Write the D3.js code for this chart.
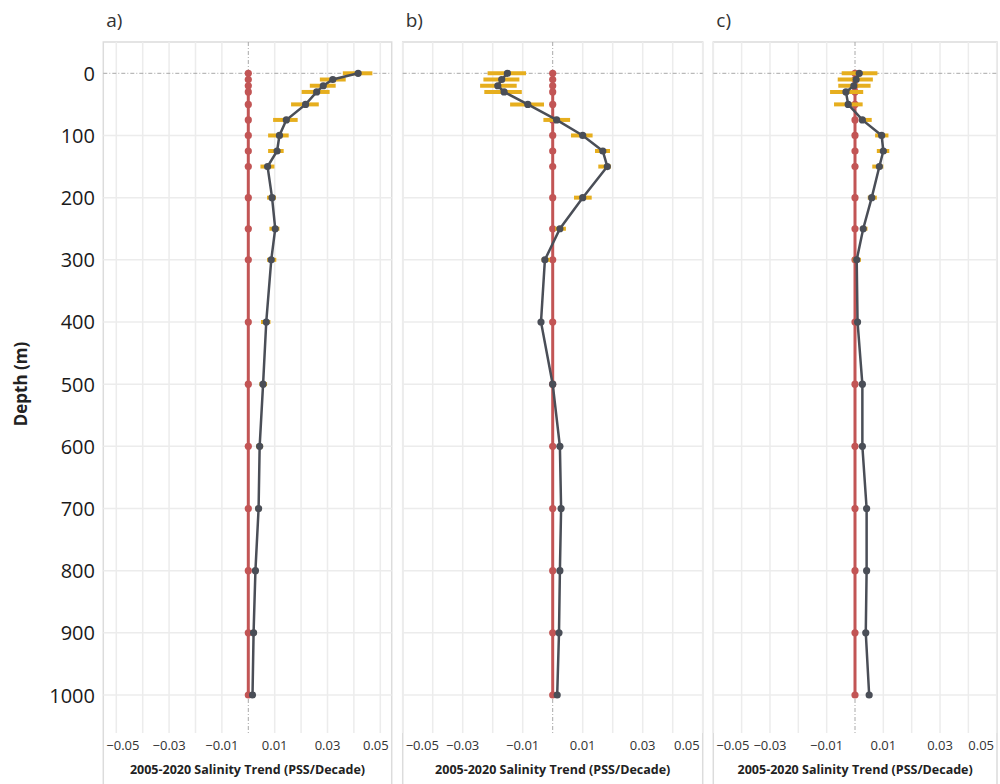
<!DOCTYPE html>
<html lang="en">
	<head>
		<meta charset="utf-8">
		<title>Salinity trend profiles</title>
		<script type="text/javascript" src="https://cdn.jsdelivr.net/npm/d3@7"></script>
		<style type="text/css">
			body { margin: 0; background: #fff; }
			text { font-family: "Open Sans", sans-serif; fill: #222; }
		</style>
	</head>
	<body>
		<script type="text/javascript">

			//Data
			var depths = [0, 10, 20, 30, 50, 75, 100, 125, 150, 200, 250, 300, 400, 500, 600, 700, 800, 900, 1000];

			var trendA = [0.0416, 0.032, 0.0284, 0.0259, 0.0217, 0.0144, 0.0118, 0.0109, 0.0073, 0.009, 0.0102, 0.0087, 0.0068, 0.0056, 0.0043, 0.0039, 0.0027, 0.002, 0.0016];
			var lowA   = [0.0358, 0.0271, 0.0233, 0.0202, 0.0162, 0.0094, 0.0075, 0.0075, 0.0046, 0.0071, 0.008, 0.0071, 0.0048, 0.0042, 0.003, 0.0027, 0.0016, 0.0012, 0.0009];
			var highA  = [0.047, 0.0369, 0.0331, 0.0308, 0.0267, 0.0187, 0.0153, 0.0134, 0.0099, 0.0105, 0.0118, 0.0106, 0.0084, 0.0071, 0.0056, 0.0049, 0.0035, 0.003, 0.0023];

			var trendB = [-0.0151, -0.017, -0.0183, -0.0162, -0.0083, 0.0013, 0.01, 0.0167, 0.0182, 0.01, 0.0024, -0.0026, -0.0039, 0, 0.0024, 0.0028, 0.0024, 0.0021, 0.0015];
			var lowB   = [-0.0217, -0.0231, -0.0242, -0.0228, -0.0142, -0.0031, 0.0061, 0.0141, 0.0152, 0.0071, 0.0008, -0.0037, -0.0047, -0.0007, 0.0017, 0.0021, 0.0018, 0.0015, 0.001];
			var highB  = [-0.0089, -0.0111, -0.012, -0.0103, -0.0029, 0.0058, 0.0133, 0.0191, 0.0194, 0.013, 0.0044, -0.0009, -0.0031, 0.0007, 0.0031, 0.0035, 0.003, 0.0027, 0.002];

			var trendC = [0.0015, 0.0004, -0.0004, -0.0032, -0.0024, 0.0026, 0.0094, 0.01, 0.0086, 0.0059, 0.0029, 0.0006, 0.0009, 0.0026, 0.0026, 0.0041, 0.0041, 0.0038, 0.005];
			var lowC   = [-0.0047, -0.0061, -0.0059, -0.0088, -0.0074, 0.0015, 0.0071, 0.0077, 0.0061, 0.0045, 0.002, -0.0008, 0.0002, 0.0019, 0.002, 0.0035, 0.0035, 0.0032, 0.0044];
			var highC  = [0.0079, 0.0063, 0.0055, 0.0029, 0.0027, 0.0059, 0.0118, 0.0121, 0.01, 0.0077, 0.0044, 0.0021, 0.0016, 0.0033, 0.0032, 0.0047, 0.0047, 0.0044, 0.0056];

			var panelLabels = ["a)", "b)", "c)"];
			var xTickLabels = [-0.05, -0.03, -0.01, 0.01, 0.03, 0.05];
			var yTickValues = [0, 100, 200, 300, 400, 500, 600, 700, 800, 900, 1000];
			var xTitle = "2005-2020 Salinity Trend (PSS/Decade)";
			var yTitle = "Depth (m)";

			//Width and height
			var w = 1000;
			var h = 784;
			var plotTop = 42;
			var plotBottom = 733;

			var red = "#c25555";
			var gold = "#e6ae1e";
			var slate = "#4a4e57";

			//Panel frames: border edges and where -0.05 .. 0.05 falls
			var panels = [
				{ label: panelLabels[0], left: 103.3, right: 391.7, range: [116.3, 380.3], trend: trendA, low: lowA, high: highA },
				{ label: panelLabels[1], left: 402.7, right: 702.7, range: [402.7, 702.7], trend: trendB, low: lowB, high: highB },
				{ label: panelLabels[2], left: 713.3, right: 997,   range: [713.3, 996.7], trend: trendC, low: lowC, high: highC }
			];

			var y = d3.scaleLinear()
						.domain([0, 1000])
						.range([73.3, 695]);

			//Create SVG element
			var svg = d3.select("body")
						.append("svg")
						.attr("width", w)
						.attr("height", h);

			//Y axis labels (shared, left side)
			svg.append("g")
				.attr("transform", "translate(95,0)")
				.call(d3.axisLeft(y).tickValues(yTickValues).tickFormat(d3.format("d")).tickSize(0).tickPadding(0))
				.call(function(g) {
					g.select(".domain").remove();
					g.selectAll("text")
						.style("font-family", "\"Open Sans\", sans-serif")
						.style("font-size", "20px")
						.style("fill", "#1a1a1a")
						.attr("dy", "0.35em");
				});

			svg.append("text")
				.attr("transform", "translate(27,384) rotate(-90)")
				.attr("text-anchor", "middle")
				.style("font-size", "17px")
				.style("font-weight", "bold")
				.text(yTitle);

			panels.forEach(function(p) {

				var x = d3.scaleLinear()
							.domain([-0.05, 0.05])
							.range(p.range);

				var g = svg.append("g");

				//Frame
				g.append("path")
					.attr("d", "M" + p.left + "," + h + "V" + plotTop + "H" + p.right + "V" + h)
					.attr("fill", "none")
					.attr("stroke", "#dcdcdc")
					.attr("stroke-width", 1.5);

				//Vertical grid every 0.01
				g.selectAll(".vgrid")
					.data(d3.range(-5, 6).filter(function(d) { return d !== 0; }).map(function(d) { return d / 100; }))
					.enter()
					.append("line")
					.attr("x1", function(d) { return x(d); })
					.attr("x2", function(d) { return x(d); })
					.attr("y1", plotTop)
					.attr("y2", plotBottom)
					.attr("stroke", "#ececec")
					.attr("stroke-width", 1.5);

				//Horizontal grid every 100 m
				g.selectAll(".hgrid")
					.data(yTickValues.slice(1))
					.enter()
					.append("line")
					.attr("x1", p.left)
					.attr("x2", p.right)
					.attr("y1", function(d) { return y(d); })
					.attr("y2", function(d) { return y(d); })
					.attr("stroke", "#ececec")
					.attr("stroke-width", 1.5);

				//Zero reference lines
				g.append("line")
					.attr("x1", p.left).attr("x2", p.right)
					.attr("y1", y(0)).attr("y2", y(0))
					.attr("stroke", "#a8a8a8")
					.attr("stroke-dasharray", "4,2,1,2");
				g.append("line")
					.attr("x1", x(0)).attr("x2", x(0))
					.attr("y1", plotTop).attr("y2", plotBottom)
					.attr("stroke", "#a8a8a8")
					.attr("stroke-dasharray", "4,2,1,2");

				//Red zero series
				g.append("line")
					.attr("x1", x(0)).attr("x2", x(0))
					.attr("y1", y(depths[0])).attr("y2", y(depths[depths.length - 1]))
					.attr("stroke", red)
					.attr("stroke-width", 3);
				g.selectAll(".zdot")
					.data(depths)
					.enter()
					.append("circle")
					.attr("cx", x(0))
					.attr("cy", function(d) { return y(d); })
					.attr("r", 3.6)
					.attr("fill", red);

				//Error bars
				g.selectAll(".err")
					.data(depths)
					.enter()
					.append("line")
					.attr("x1", function(d, i) { return x(p.low[i]); })
					.attr("x2", function(d, i) { return x(p.high[i]); })
					.attr("y1", function(d) { return y(d); })
					.attr("y2", function(d) { return y(d); })
					.attr("stroke", gold)
					.attr("stroke-width", 4);

				//Trend profile
				var line = d3.line()
							.x(function(d, i) { return x(p.trend[i]); })
							.y(function(d) { return y(d); });

				g.append("path")
					.datum(depths)
					.attr("d", line)
					.attr("fill", "none")
					.attr("stroke", slate)
					.attr("stroke-width", 2.5);

				g.selectAll(".tdot")
					.data(depths)
					.enter()
					.append("circle")
					.attr("cx", function(d, i) { return x(p.trend[i]); })
					.attr("cy", function(d) { return y(d); })
					.attr("r", 3.6)
					.attr("fill", slate);

				//X tick labels, kept inside the frame
				g.selectAll(".xlab")
					.data(xTickLabels)
					.enter()
					.append("text")
					.attr("y", 745)
					.attr("dy", "0.35em")
					.attr("text-anchor", "middle")
					.style("font-size", "13px")
					.style("fill", "#333")
					.text(function(d) { return d3.format(".2f")(d); })
					.attr("x", function(d) {
						var half = this.getComputedTextLength() / 2;
						return Math.max(p.left + half + 3, Math.min(p.right - half - 3, x(d)));
					});

				g.append("text")
					.attr("x", (p.left + p.right) / 2)
					.attr("y", 770)
					.attr("dy", "0.35em")
					.attr("text-anchor", "middle")
					.style("font-size", "12.5px")
					.style("font-weight", "bold")
					.text(xTitle);

				//Panel label
				g.append("text")
					.attr("x", p.left + 3)
					.attr("y", 27)
					.style("font-size", "19px")
					.style("fill", "#333")
					.text(p.label);
			});

		</script>
	</body>
</html>
